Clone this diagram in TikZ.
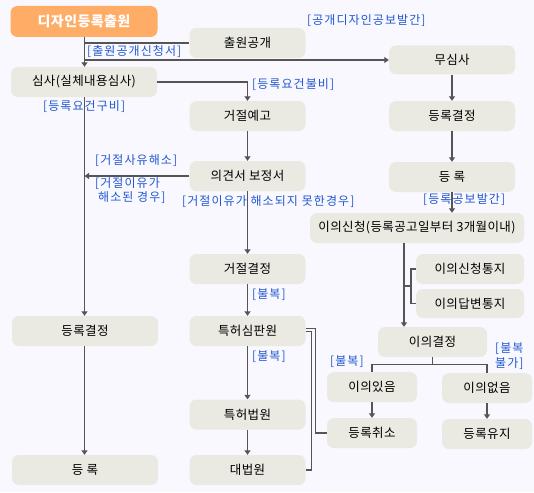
\documentclass[tikz,border=0pt]{standalone}
\usepackage{fontspec}
\setmainfont{Noto Sans CJK KR}
\newfontfamily\boxfont{Noto Sans CJK KR}[LetterSpace=3]
\newfontfamily\lblfont{Noto Sans CJK KR}[LetterSpace=9]
\usetikzlibrary{arrows.meta, positioning, calc}
\definecolor{bggray}{HTML}{F8F8FE}
\definecolor{boxgray}{HTML}{EAEAE3}
\definecolor{applyorange}{HTML}{FFAC66}
\definecolor{lblblue}{HTML}{2158D0}
\definecolor{linegray}{HTML}{555555}
\tikzset{box/.style={fill=boxgray, rounded corners=7pt, minimum height=30pt, inner sep=0pt, font=\boxfont\fontsize{12.5}{14}\selectfont}}
\tikzset{lbl/.style={anchor=west, inner sep=0pt, text=lblblue, font=\lblfont\fontsize{12}{14.5}\selectfont, align=left}}
\tikzset{flow/.style={draw=linegray, line width=1.3pt}}
\tikzset{arr/.style={flow, -{Triangle[length=4.5pt, width=6pt]}}}

\begin{document}
\begin{tikzpicture}[x=1pt, y=-1pt]
\fill[bggray] (0,0) rectangle (534,492);
\useasboundingbox (0,0) rectangle (534,492);

% left column
\node[box, fill=applyorange, text=white, minimum width=147pt, minimum height=31pt, font=\boxfont\fontsize{14}{16}\selectfont\bfseries] (apply) at (84,21.5) {디자인등록출원};
\node[box, minimum width=146pt] (exam)    at (84,82)  {심사(실체내용심사)};
\node[box, minimum width=146pt] (regdecL) at (85,331) {등록결정};
\node[box, minimum width=146pt] (regL)    at (85,470) {등 록};

% middle column
\node[box, minimum width=116pt] (pub)      at (247.5,43)    {출원공개};
\node[box, minimum width=116pt] (notice)   at (247.5,116)   {거절예고};
\node[box, minimum width=116pt] (opinion)  at (247.5,176)   {의견서 보정서};
\node[box, minimum width=116pt] (reject)   at (247.5,269)   {거절결정};
\node[box, minimum width=116pt] (tribunal) at (247.5,331)   {특허심판원};
\node[box, minimum width=116pt] (patcourt) at (247.5,414.5) {특허법원};
\node[box, minimum width=116pt] (supreme)  at (247.5,470)   {대법원};

% right column
\node[box, minimum width=126pt, minimum height=29pt] (noexam) at (452,60) {무심사};
\node[box, minimum width=126pt] (regdecR)   at (452,116)   {등록결정};
\node[box, minimum width=126pt] (regR)      at (452,177)   {등 록};
\node[box, minimum width=214pt] (oppose)    at (417,228)   {이의신청(등록공고일부터 3개월이내)};
\node[box, minimum width=108pt] (oppnotice) at (470,269)   {이의신청통지};
\node[box, minimum width=108pt, minimum height=29pt] (oppreply) at (470,303.5) {이의답변통지};
\node[box, minimum width=109pt] (oppdec)    at (432.5,342) {이의결정};
\node[box, minimum width=90pt]  (objyes)    at (372,387)   {이의있음};
\node[box, minimum width=90pt]  (objno)     at (487,388)   {이의없음};
\node[box, minimum width=90pt]  (cancel)    at (372,433)   {등록취소};
\node[box, minimum width=90pt]  (keep)      at (487,434)   {등록유지};

\coordinate (leftx) at (84.5,0);
\coordinate (oppx) at (404,0);
\coordinate (brk) at (411,286);

% connectors
\draw[arr] (apply.south -| leftx) -- (exam.north -| leftx);
\draw[flow] (leftx |- pub.west) -- (pub.west);
\draw[arr] (leftx |- noexam.west) -- (noexam.west);
\draw[arr] (exam.east) -| (notice.north);
\draw[arr] (exam.south -| leftx) -- (regdecL.north -| leftx);
\draw[arr] (regdecL.south -| leftx) -- (regL.north -| leftx);
\draw[arr] (notice.south) -- (opinion.north);
\draw[arr] (opinion.west) -- (opinion.west -| leftx);
\draw[arr] (opinion.south) -- (reject.north);
\draw[arr] (reject.south) -- (tribunal.north);
\draw[arr] (tribunal.south) -- (patcourt.north);
\draw[arr] (patcourt.south) -- (supreme.north);
\draw[flow] ([yshift=2.5pt]tribunal.east) -- ++(10,0) |- (cancel.west);
\draw[flow] ([yshift=-0.5pt]tribunal.east) -- ++(6,0) |- (supreme.east);
\draw[arr] (noexam.south) -- (regdecR.north);
\draw[arr] (regdecR.south) -- (regR.north);
\draw[arr] (regR.south) -- (regR.south |- oppose.north);
\draw[arr] (oppose.south -| oppx) -- (oppdec.north -| oppx);
\draw[flow] (oppnotice.west) -| (brk) |- (oppreply.west);
\draw[flow] (brk) -- (brk -| oppx);
\draw[flow] (oppdec.south) -- ++(0,7) coordinate (fork);
\draw[flow] (objyes.north) |- (fork) -| (objno.north);
\draw[arr] (objyes.south) -- (cancel.north);
\draw[arr] (objno.south) -- (keep.north);

% labels
\node[lbl] (lpubgaz)   at (307,21)    {[공개디자인공보발간]};
\node[lbl] (lpubreq)   at (87,52)     {[출원공개신청서]};
\node[lbl] (lunmet)    at (252,85)    {[등록요건불비]};
\node[lbl] (lmet)      at (43,107)    {[등록요건구비]};
\node[lbl] (lsolved)   at (95,161)    {[거절사유해소]};
\node[lbl] (lsolved2)  at (95,190.5)  {[거절이유가\\\hspace{3pt}해소된 경우]};
\node[lbl] (lunsolved) at (182,202)   {[거절이유가 해소되지 못한경우]};
\node[lbl] (lreggaz)   at (423,200)   {[등록공보발간]};
\node[lbl] (lappeal1)  at (252,295)   {[불복]};
\node[lbl] (lappeal2)  at (252,357)   {[불복]};
\node[lbl] (lappeal3)  at (330,362)   {[불복]};
\node[lbl] (lnoappeal) at (495,356)   {[불복\\불가]};
\end{tikzpicture}
\end{document}
